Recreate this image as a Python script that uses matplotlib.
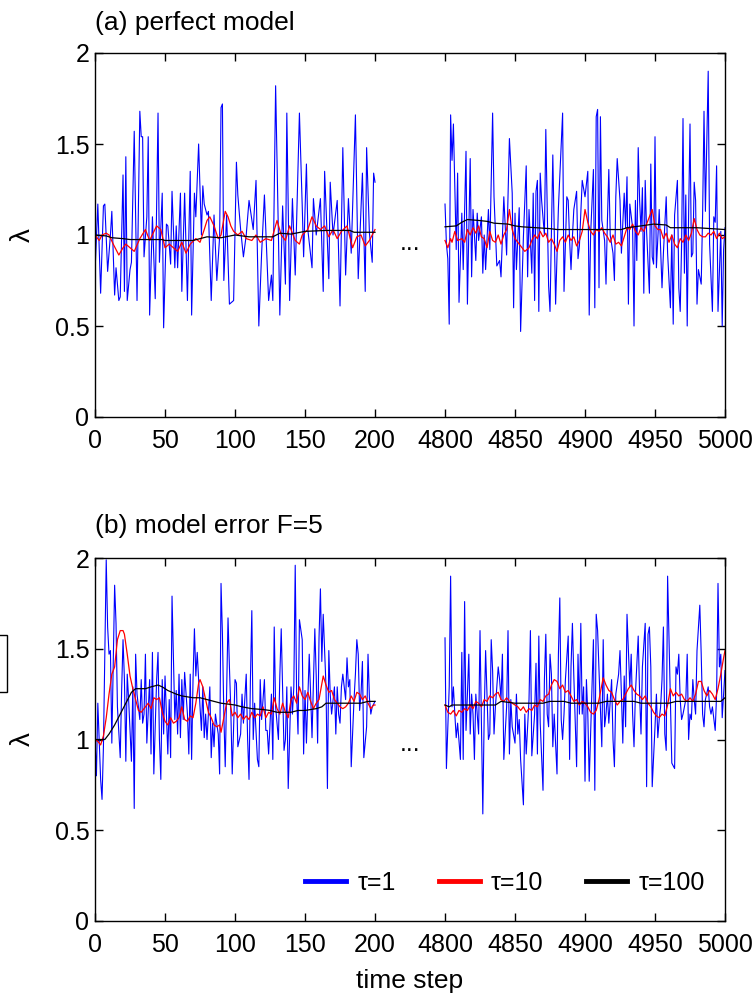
import numpy as np
import matplotlib.pyplot as plt
from matplotlib.patches import Rectangle

plt.rcParams['font.family'] = ['Liberation Sans Narrow', 'Liberation Sans', 'DejaVu Sans']

# (time step, lambda)
# panel (a) perfect model, steps 0-200
a1_tau1 = [(0,0.80),(2,1.17),(4,0.68),(6,1.16),(7,1.17),(9,0.80),(11,1.00),(12,1.13),(14,0.67),(15,0.82),
           (17,0.64),(18,0.66),(20,1.33),(21,0.69),(22,1.43),(23,0.64),(25,0.81),(26,0.85),(28,1.57),(30,0.64),
           (32,1.68),(33,1.54),(34,1.54),(35,0.88),(37,1.10),(38,1.54),(39,0.56),(41,1.10),(43,0.65),(45,1.67),
           (46,0.85),(48,1.23),(49,0.49),(51,1.06),(52,1.05),(54,0.84),(55,1.24),(57,0.82),(58,1.05),(59,0.82),
           (61,1.23),(62,0.69),(64,1.23),(66,0.64),(68,1.35),(69,0.56),(71,1.23),(72,1.10),(74,1.50),(76,1.00),
           (77,1.27),(78,1.17),(80,1.11),(81,1.13),(83,0.64),(85,1.11),(87,0.75),(89,0.99),(90,1.70),(91,1.72),
           (92,0.75),(94,1.11),(96,0.62),(99,0.64),(101,1.40),(102,1.22),(104,1.03),(106,0.88),(108,1.00),(110,1.19),
           (113,1.03),(115,1.30),(117,0.50),(119,0.90),(121,1.22),(124,0.64),(126,0.78),(127,0.64),(129,1.82),(131,1.00),
           (132,0.56),(134,1.16),(136,0.73),(137,1.67),(139,0.64),(141,1.20),(143,0.78),(146,1.67),(148,1.16),(149,0.88),
           (151,1.39),(152,1.03),(155,0.82),(156,1.20),(158,1.00),(161,1.20),(163,0.69),(164,1.35),(167,0.76),(168,1.29),
           (170,1.00),(173,1.19),(175,0.61),(177,1.48),(179,0.78),(181,1.20),(183,0.90),(186,1.66),(188,0.76),(191,1.34),
           (193,0.69),(194,1.48),(196,1.01),(198,0.85),(199,1.34),(200,1.29)]
a1_tau10 = [(0,1.00),(3,0.97),(5,1.00),(8,1.01),(10,1.00),(13,0.95),(17,0.89),(20,0.93),(22,0.95),(25,0.93),
            (28,0.91),(32,0.98),(36,1.03),(39,0.97),(44,1.05),(47,1.03),(50,0.93),(53,0.95),(56,0.93),(59,0.91),
            (62,0.96),(65,0.90),(68,0.95),(72,0.98),(75,0.96),(78,1.03),(80,1.08),(82,1.10),(85,1.05),(88,0.98),
            (90,1.00),(93,1.13),(95,1.10),(97,1.05),(99,1.02),(102,1.00),(105,1.02),(108,0.98),(112,0.97),(115,1.00),
            (118,0.96),(122,0.98),(126,0.97),(130,1.08),(133,1.00),(136,0.97),(139,1.05),(143,0.97),(146,0.95),(148,1.00),
            (152,1.03),(155,1.10),(158,1.05),(161,1.03),(164,1.05),(167,0.99),(170,1.03),(173,0.98),(176,1.02),(180,1.05),
            (184,0.93),(187,0.99),(190,1.00),(193,0.94),(196,0.97),(198,1.00),(200,1.03)]
a1_tau100 = [(0,1.00),(8,0.995),(12,0.985),(20,0.98),(25,0.975),(48,0.975),(50,0.97),(70,0.97),(75,0.98),(80,0.99),
             (90,0.985),(100,1.00),(110,0.99),(127,0.99),(132,1.01),(140,1.005),(150,1.02),(165,1.025),(182,1.025),
             (185,1.015),(200,1.015)]

# panel (a), steps 4800-5000 (relative to 4800)
a2_tau1 = [(0,1.17),(1,0.95),(2,0.87),(3,0.51),(4,1.66),(5,1.41),(6,1.61),(8,0.92),(9,1.34),(10,0.63),
           (12,1.12),(13,0.81),(15,1.46),(16,0.62),(18,1.42),(19,0.77),(20,1.14),(22,0.86),(23,1.12),(24,0.97),
           (26,1.10),(27,0.79),(28,1.00),(29,0.81),(31,1.14),(32,0.92),(34,1.67),(35,1.21),(37,0.83),(39,0.86),
           (40,0.77),(42,1.21),(44,0.89),(46,1.53),(48,1.23),(49,0.60),(50,1.12),(51,0.81),(53,1.15),(54,0.47),
           (56,0.99),(58,1.38),(59,0.77),(60,1.14),(62,0.79),(63,1.23),(64,0.64),(65,1.24),(66,1.30),(67,0.58),
           (68,1.34),(69,1.19),(71,1.00),(72,1.58),(74,0.72),(75,0.58),(77,1.44),(79,0.62),(81,1.15),(84,1.67),
           (85,0.69),(87,1.21),(88,1.19),(89,0.97),(90,0.81),(91,0.99),(92,1.14),(94,1.24),(95,0.87),(96,0.94),
           (98,1.30),(100,1.21),(102,1.35),(103,0.56),(104,1.00),(106,1.36),(107,0.60),(108,1.65),(109,1.69),(110,0.71),
           (111,1.65),(112,1.08),(114,0.97),(115,0.73),(116,1.08),(117,1.36),(118,1.00),(120,0.90),(121,0.75),(122,1.21),
           (123,1.42),(125,1.19),(126,0.90),(128,1.23),(129,1.04),(130,1.32),(131,0.62),(132,1.17),(134,1.04),(135,0.50),
           (136,1.19),(137,0.86),(138,1.48),(139,1.19),(140,1.02),(141,1.26),(142,0.68),(143,1.30),(144,1.02),(146,0.68),
           (147,1.39),(148,0.88),(149,0.84),(150,1.54),(151,0.82),(153,1.14),(155,0.71),(156,0.90),(158,1.21),(159,0.90),
           (161,0.60),(162,1.00),(163,0.51),(164,1.11),(166,1.30),(167,0.71),(168,0.58),(169,0.95),(170,1.64),(171,0.79),
           (172,1.22),(173,0.50),(174,1.11),(175,1.61),(176,0.88),(177,0.90),(178,1.29),(179,1.19),(180,0.62),(181,0.81),
           (183,0.73),(184,1.11),(185,1.68),(186,1.13),(188,1.90),(189,0.95),(191,0.58),(192,1.10),(193,1.07),(194,1.38),
           (195,0.58),(197,1.02),(198,0.50),(199,0.92),(200,1.04)]
a2_tau10 = [(0,0.97),(2,0.93),(4,0.98),(5,0.96),(7,1.02),(9,0.97),(12,0.98),(14,0.96),(16,1.03),(18,1.00),
            (20,1.04),(22,1.01),(24,1.05),(26,0.99),(28,0.98),(30,0.93),(32,1.02),(34,0.97),(36,0.96),(38,1.00),
            (40,0.95),(42,1.00),(44,1.03),(46,1.14),(48,1.03),(50,0.98),(53,0.95),(55,0.93),(57,0.91),(60,0.93),
            (62,0.97),(64,1.00),(66,0.98),(68,1.02),(70,0.99),(72,1.01),(74,0.96),(76,0.98),(78,0.95),(80,0.91),
            (82,0.97),(84,0.99),(86,0.96),(88,1.00),(90,0.97),(92,0.99),(94,0.94),(96,0.97),(98,1.02),(100,1.14),
            (102,1.07),(104,1.02),(106,1.00),(108,1.03),(110,1.02),(112,1.04),(114,1.01),(116,0.99),(118,0.96),(120,1.00),
            (122,0.95),(124,0.96),(126,0.94),(128,0.99),(130,1.04),(132,1.03),(134,1.06),(136,1.02),(138,1.00),(140,1.04),
            (142,1.02),(144,1.06),(146,1.10),(148,1.14),(150,1.05),(152,1.03),(154,1.03),(156,0.98),(158,1.01),(160,0.96),
            (162,1.00),(164,0.95),(166,0.93),(168,0.98),(170,0.96),(172,1.00),(174,0.97),(176,1.01),(178,1.09),(180,1.03),
            (182,1.00),(184,0.99),(186,0.99),(188,1.01),(190,1.00),(192,1.02),(194,0.98),(196,1.01),(198,0.98),(200,0.99)]
a2_tau100 = [(0,1.045),(8,1.05),(12,1.07),(16,1.085),(24,1.08),(30,1.075),(35,1.065),(45,1.06),(50,1.05),(55,1.045),
             (75,1.035),(80,1.03),(100,1.03),(126,1.03),(130,1.04),(140,1.05),(149,1.06),(158,1.055),(161,1.04),
             (180,1.04),(190,1.035),(200,1.03)]

# panel (b) model error F=5, steps 0-200
b1_tau1 = [(0,1.00),(1,0.80),(2,1.20),(4,0.78),(5,0.67),(6,0.96),(8,1.99),(9,1.62),(10,1.47),(11,1.49),
           (12,0.98),(14,1.85),(15,1.64),(16,1.18),(18,0.90),(19,1.27),(20,1.55),(21,1.33),(22,0.88),(23,1.36),
           (24,1.22),(26,0.88),(27,1.29),(28,0.62),(29,1.47),(30,1.25),(32,1.11),(33,1.33),(34,1.09),(35,1.14),
           (36,1.47),(37,0.98),(39,1.33),(40,0.92),(41,1.48),(42,0.81),(44,1.33),(45,1.48),(46,1.00),(47,0.78),
           (48,1.33),(49,1.03),(50,1.35),(52,0.92),(53,1.22),(54,0.90),(55,1.79),(57,1.11),(58,1.27),(59,1.03),
           (60,1.36),(61,1.01),(62,1.33),(63,1.11),(64,1.37),(66,1.14),(67,0.92),(68,1.36),(69,0.89),(70,1.33),
           (71,1.61),(72,1.35),(73,1.48),(75,1.18),(76,1.05),(77,1.29),(78,1.01),(79,1.14),(80,1.00),(82,1.29),
           (83,0.90),(84,1.09),(85,0.96),(86,1.14),(88,1.03),(89,0.81),(90,1.86),(91,1.58),(92,1.14),(93,0.85),
           (95,1.67),(96,1.40),(97,1.16),(98,0.81),(100,1.33),(101,1.31),(102,0.96),(104,1.03),(105,1.25),(106,1.09),
           (108,1.36),(109,1.00),(110,0.78),(111,1.33),(112,1.71),(113,1.00),(114,1.20),(116,0.89),(117,0.85),(118,1.33),
           (119,1.11),(121,1.33),(122,1.05),(123,1.05),(124,0.92),(126,1.25),(127,0.89),(128,1.62),(129,1.18),(131,1.00),
           (132,1.35),(133,1.61),(135,0.94),(136,1.00),(137,1.29),(138,0.73),(140,1.29),(141,1.14),(142,1.29),(143,1.96),
           (144,1.25),(145,1.03),(146,1.66),(148,1.55),(149,0.92),(150,1.27),(151,0.98),(153,1.47),(154,1.25),(155,1.01),
           (157,1.61),(158,1.35),(159,0.98),(160,1.56),(161,1.83),(162,1.43),(163,1.69),(165,1.29),(166,0.73),(167,1.49),
           (168,1.25),(169,1.14),(171,1.29),(172,1.03),(173,1.29),(174,1.14),(175,1.09),(176,1.29),(177,1.36),(179,1.22),
           (180,1.45),(181,1.29),(182,1.33),(183,0.85),(185,1.22),(186,1.36),(187,1.55),(188,1.47),(189,1.16),(190,1.25),
           (191,1.43),(192,0.90),(194,1.07),(195,1.47),(196,1.23),(197,1.14),(198,1.18),(200,1.21)]
b1_tau10 = [(0,1.00),(2,0.99),(4,0.97),(6,1.02),(8,1.12),(10,1.25),(12,1.36),(14,1.40),(16,1.55),(18,1.60),
            (20,1.60),(21,1.58),(23,1.47),(25,1.35),(27,1.28),(29,1.22),(31,1.16),(33,1.15),(36,1.18),(38,1.20),
            (40,1.17),(42,1.23),(44,1.22),(46,1.23),(48,1.15),(50,1.10),(52,1.08),(54,1.12),(56,1.09),(58,1.10),
            (60,1.12),(62,1.18),(64,1.11),(66,1.10),(68,1.13),(70,1.12),(72,1.20),(74,1.31),(75,1.33),(77,1.29),
            (79,1.22),(81,1.15),(83,1.12),(85,1.08),(87,1.07),(89,1.08),(90,1.04),(92,1.12),(94,1.20),(96,1.22),
            (98,1.13),(100,1.15),(102,1.12),(104,1.14),(106,1.11),(108,1.13),(110,1.11),(112,1.15),(114,1.12),(116,1.14),
            (118,1.13),(120,1.18),(122,1.12),(124,1.15),(126,1.14),(128,1.23),(130,1.17),(132,1.14),(134,1.20),(136,1.15),
            (138,1.12),(140,1.22),(142,1.24),(144,1.20),(146,1.29),(148,1.24),(150,1.22),(152,1.26),(154,1.21),(156,1.17),
            (158,1.20),(160,1.22),(163,1.35),(165,1.30),(167,1.26),(169,1.27),(171,1.22),(173,1.20),(175,1.18),(177,1.17),
            (179,1.18),(181,1.20),(183,1.24),(185,1.21),(187,1.26),(189,1.25),(191,1.22),(193,1.24),(195,1.20),(197,1.17),
            (199,1.19),(200,1.19)]
b1_tau100 = [(0,1.00),(7,1.00),(10,1.03),(14,1.08),(18,1.14),(22,1.20),(26,1.26),(29,1.28),(36,1.28),(40,1.29),
             (45,1.30),(48,1.29),(52,1.27),(58,1.25),(62,1.24),(70,1.23),(75,1.23),(80,1.22),(85,1.21),(90,1.20),
             (100,1.19),(105,1.18),(112,1.17),(120,1.165),(125,1.16),(130,1.15),(140,1.15),(145,1.16),(150,1.16),
             (158,1.17),(162,1.18),(165,1.20),(180,1.20),(190,1.20),(195,1.21),(200,1.21)]

# panel (b), steps 4800-5000 (relative to 4800)
b2_tau1 = [(0,1.56),(1,0.84),(3,1.29),(4,1.90),(5,1.18),(6,1.29),(7,1.14),(8,1.01),(9,1.09),(11,0.89),
           (12,1.48),(13,0.89),(14,1.76),(15,1.05),(16,1.25),(17,1.47),(18,1.03),(19,1.25),(20,1.14),(21,0.89),
           (22,1.25),(24,1.03),(25,1.60),(26,1.11),(27,0.59),(28,1.14),(29,1.49),(30,1.25),(31,1.00),(32,1.03),
           (33,1.55),(34,1.38),(35,1.03),(36,1.18),(37,1.29),(38,1.40),(39,1.33),(40,1.22),(41,1.47),(42,0.89),
           (44,1.18),(45,1.60),(46,0.92),(47,1.22),(48,1.07),(50,0.98),(51,1.25),(52,1.03),(53,1.11),(54,0.89),
           (56,0.64),(57,1.14),(58,0.92),(60,1.22),(61,1.60),(62,0.91),(64,1.14),(65,1.42),(66,0.92),(67,1.57),
           (68,1.09),(70,0.72),(71,1.33),(72,1.58),(73,1.14),(74,1.07),(75,1.47),(76,1.36),(77,0.96),(78,1.14),
           (80,0.81),(81,1.47),(82,1.78),(83,1.11),(84,1.00),(85,1.14),(86,1.33),(88,1.57),(89,0.89),(90,1.40),
           (91,1.64),(92,1.35),(94,0.85),(95,1.47),(96,1.14),(97,1.64),(98,1.14),(99,1.29),(100,0.77),(101,1.33),
           (102,1.14),(103,0.77),(104,1.03),(106,1.55),(107,0.72),(108,1.69),(109,1.60),(110,1.38),(112,0.96),(113,1.55),
           (114,1.07),(115,1.14),(116,1.25),(117,1.09),(119,1.33),(120,1.00),(121,0.85),(122,1.25),(124,1.36),(125,1.49),
           (126,1.25),(127,0.98),(128,1.35),(129,1.07),(130,1.69),(132,1.29),(133,1.47),(134,1.14),(135,0.96),(136,1.25),
           (138,1.57),(139,1.25),(140,1.03),(141,1.40),(143,1.64),(144,0.74),(145,1.58),(146,1.62),(147,1.40),(148,0.74),
           (150,1.07),(151,1.25),(152,1.01),(153,1.11),(154,1.18),(155,1.33),(156,1.62),(157,1.03),(158,0.94),(159,1.90),
           (160,1.55),(161,1.18),(162,0.87),(164,0.84),(165,1.40),(166,1.36),(167,1.47),(168,1.22),(169,1.11),(170,1.14),
           (172,1.22),(173,1.47),(174,1.00),(175,1.14),(176,1.11),(177,1.33),(178,1.22),(179,1.14),(180,1.49),(182,1.74),
           (183,1.47),(184,1.14),(185,1.07),(186,1.22),(188,1.29),(189,1.18),(190,1.14),(191,1.18),(193,1.05),(194,1.25),
           (195,1.86),(196,1.40),(197,1.47),(198,1.12),(200,1.38)]
b2_tau10 = [(0,1.19),(2,1.15),(4,1.14),(6,1.16),(8,1.13),(10,1.16),(12,1.15),(14,1.17),(16,1.16),(18,1.19),
            (20,1.17),(22,1.21),(24,1.20),(26,1.18),(28,1.22),(30,1.21),(32,1.24),(34,1.23),(36,1.25),(38,1.26),
            (40,1.22),(42,1.21),(44,1.23),(46,1.21),(48,1.20),(50,1.19),(52,1.18),(54,1.16),(56,1.18),(58,1.15),
            (60,1.17),(62,1.16),(64,1.19),(66,1.18),(68,1.22),(70,1.21),(72,1.24),(74,1.25),(76,1.30),(78,1.33),
            (80,1.32),(82,1.28),(84,1.30),(86,1.26),(88,1.27),(90,1.24),(92,1.21),(94,1.22),(96,1.19),(98,1.21),
            (100,1.20),(102,1.18),(104,1.15),(106,1.14),(108,1.16),(110,1.22),(112,1.30),(113,1.34),(115,1.30),(117,1.27),
            (119,1.26),(121,1.22),(123,1.19),(125,1.21),(127,1.22),(129,1.25),(131,1.28),(133,1.30),(135,1.27),(137,1.25),
            (139,1.24),(141,1.22),(143,1.24),(145,1.20),(147,1.18),(149,1.15),(151,1.13),(153,1.12),(155,1.14),(157,1.13),
            (159,1.19),(161,1.28),(163,1.24),(165,1.26),(167,1.24),(169,1.25),(171,1.22),(173,1.21),(175,1.23),(177,1.21),
            (179,1.25),(181,1.32),(183,1.32),(185,1.27),(187,1.24),(189,1.27),(191,1.25),(193,1.22),(195,1.28),(197,1.36),
            (199,1.45),(200,1.49)]
b2_tau100 = [(0,1.19),(3,1.18),(5,1.19),(36,1.19),(40,1.21),(50,1.20),(70,1.20),(75,1.21),(85,1.21),(90,1.20),
             (110,1.20),(115,1.21),(135,1.21),(140,1.20),(160,1.20),(165,1.21),(197,1.21),(200,1.23)]

xtick_pos = [0, 50, 100, 150, 200, 250, 300, 350, 400, 450]
xtick_labels = ['0', '50', '100', '150', '200', '4800', '4850', '4900', '4950', '5000']
ytick_pos = [0, 0.5, 1, 1.5, 2]
ytick_labels = ['0', '0.5', '1', '1.5', '2']

shift = 250  # 4800 is drawn at x=250, right after the break

fig = plt.figure(figsize=(7.56, 10), dpi=100)
ax1 = fig.add_axes([0.1257, 0.583, 0.8333, 0.364])
ax2 = fig.add_axes([0.1257, 0.079, 0.8333, 0.363])


def seg(ax, pairs, off, color, lw, label=None):
    t, v = zip(*pairs)
    ax.plot(np.array(t) + off, v, color=color, lw=lw, label=label)


panels = [
    (ax1, [a1_tau1, a1_tau10, a1_tau100], [a2_tau1, a2_tau10, a2_tau100], '(a) perfect model', 1.063, 0.92),
    (ax2, [b1_tau1, b1_tau10, b1_tau100], [b2_tau1, b2_tau10, b2_tau100], '(b) model error F=5', 1.069, 0.935),
]
colors = ['#0000ff', '#ff0000', '#000000']
labels = ['τ=1', 'τ=10', 'τ=100']

for ax, left, right, title, ty, dots_y in panels:
    for k in range(3):
        lw = 0.8 if k == 0 else 0.9
        seg(ax, left[k], 0, colors[k], lw, labels[k])
        seg(ax, right[k], shift, colors[k], lw)
    ax.set_xlim(0, 450)
    ax.set_ylim(0, 2)
    ax.set_xticks(xtick_pos)
    ax.set_xticklabels(xtick_labels)
    ax.set_yticks(ytick_pos)
    ax.set_yticklabels(ytick_labels)
    ax.tick_params(direction='in', top=True, right=True, length=6, width=1, labelsize=18)
    ax.tick_params(axis='x', pad=9)
    ax.tick_params(axis='y', pad=4)
    for s in ax.spines.values():
        s.set_linewidth(1.0)
    ax.set_ylabel('λ', fontsize=20)
    ax.yaxis.set_label_coords(-0.094, 0.5)
    ax.text(0, ty, title, transform=ax.transAxes, fontsize=19, ha='left', va='baseline')
    ax.text(225, dots_y, '...', fontsize=18, ha='center', va='baseline')

leg = ax2.legend(loc='center right', bbox_to_anchor=(0.968, 0.105), ncol=3, frameon=False,
                 fontsize=18, handlelength=1.65, handletextpad=0.45, columnspacing=1.7,
                 borderpad=0, borderaxespad=0)
for h in leg.get_lines():
    h.set_linewidth(3.5)

ax2.set_xlabel('time step', fontsize=19, labelpad=8)

# stray box at the left edge of the original figure
fig.patches.append(Rectangle((-0.02, 0.308), 0.0297, 0.057, transform=fig.transFigure,
                             fill=False, lw=1, edgecolor='black', clip_on=False))

fig.savefig('out.png', dpi=100)
